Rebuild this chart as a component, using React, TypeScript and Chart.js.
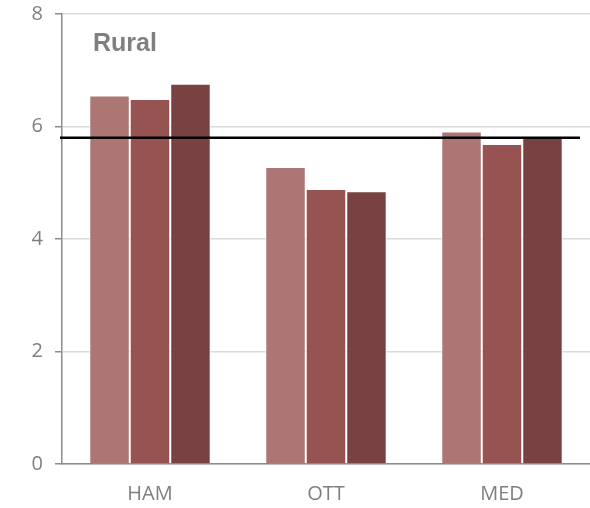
import React, { useEffect, useRef } from "react";
import { Chart, registerables } from "chart.js";

Chart.register(...registerables);

const categories = ["HAM", "OTT", "MED"];
const series1 = [6.55, 5.28, 5.91];
const series2 = [6.49, 4.89, 5.69];
const series3 = [6.76, 4.85, 5.8];
const seriesColors = ["#AC7674", "#965352", "#784242"];
const yTicks = [0, 2, 4, 6, 8];
const referenceValue = 5.8;
const titleText = "Rural";

const overlayPlugin = {
  id: "overlay",
  afterDatasetsDraw(chart: any) {
    const { ctx, chartArea, scales } = chart;
    const y = scales.y.getPixelForValue(referenceValue);
    ctx.save();
    ctx.strokeStyle = "#000000";
    ctx.lineWidth = 2.5;
    ctx.beginPath();
    ctx.moveTo(chartArea.left - 2, y);
    ctx.lineTo(chartArea.right - 10, y);
    ctx.stroke();
    ctx.fillStyle = "#808080";
    ctx.font = "bold 25px 'Liberation Sans', Arial, sans-serif";
    ctx.textBaseline = "middle";
    ctx.textAlign = "left";
    ctx.fillText(titleText, chartArea.left + 31, 44);
    ctx.restore();
  },
};

export default function App() {
  const ref = useRef<HTMLCanvasElement | null>(null);
  useEffect(() => {
    if (!ref.current) return;
    const data = [series1, series2, series3];
    const chart = new Chart(ref.current, {
      type: "bar",
      data: {
        labels: categories,
        datasets: data.map((d, i) => ({
          label: "S" + (i + 1),
          data: d,
          backgroundColor: seriesColors[i],
          borderColor: "#ffffff",
          borderWidth: 1,
          barPercentage: 1,
          categoryPercentage: 0.69,
        })),
      },
      options: {
        animation: false,
        responsive: false,
        maintainAspectRatio: false,
        layout: { padding: { top: 14, right: 0, left: 0, bottom: 0 } },
        plugins: { legend: { display: false }, tooltip: { enabled: false }, title: { display: false } },
        scales: {
          x: {
            grid: { display: false, drawTicks: false },
            border: { color: "#8c8c8c", width: 1.5 },
            ticks: {
              color: "#7f7f7f",
              font: { family: "'Open Sans', sans-serif", size: 20 },
              padding: 18,
            },
            afterFit(scale: any) {
              scale.height = 44;
              scale.paddingLeft = 0;
              scale.paddingRight = 0;
            },
          },
          y: {
            min: 0,
            max: 8,
            afterBuildTicks(scale: any) {
              scale.ticks = yTicks.map((v) => ({ value: v }));
            },
            grid: { color: "#d9d9d9", lineWidth: 1.5, tickLength: 7, tickColor: "#8c8c8c" },
            border: { color: "#8c8c8c", width: 1.5 },
            ticks: {
              color: "#7f7f7f",
              font: { family: "'Open Sans', sans-serif", size: 20 },
              padding: 12,
            },
            afterFit(scale: any) {
              scale.width = 62;
              scale.paddingTop = 0;
              scale.paddingBottom = 0;
            },
          },
        },
      },
      plugins: [overlayPlugin],
    });
    return () => chart.destroy();
  }, []);
  return (
    <div style={{ position: "fixed", left: 0, top: 0, width: 590, height: 508, background: "#fff" }}>
      <canvas ref={ref} width={590} height={508} style={{ display: "block" }} />
    </div>
  );
}
